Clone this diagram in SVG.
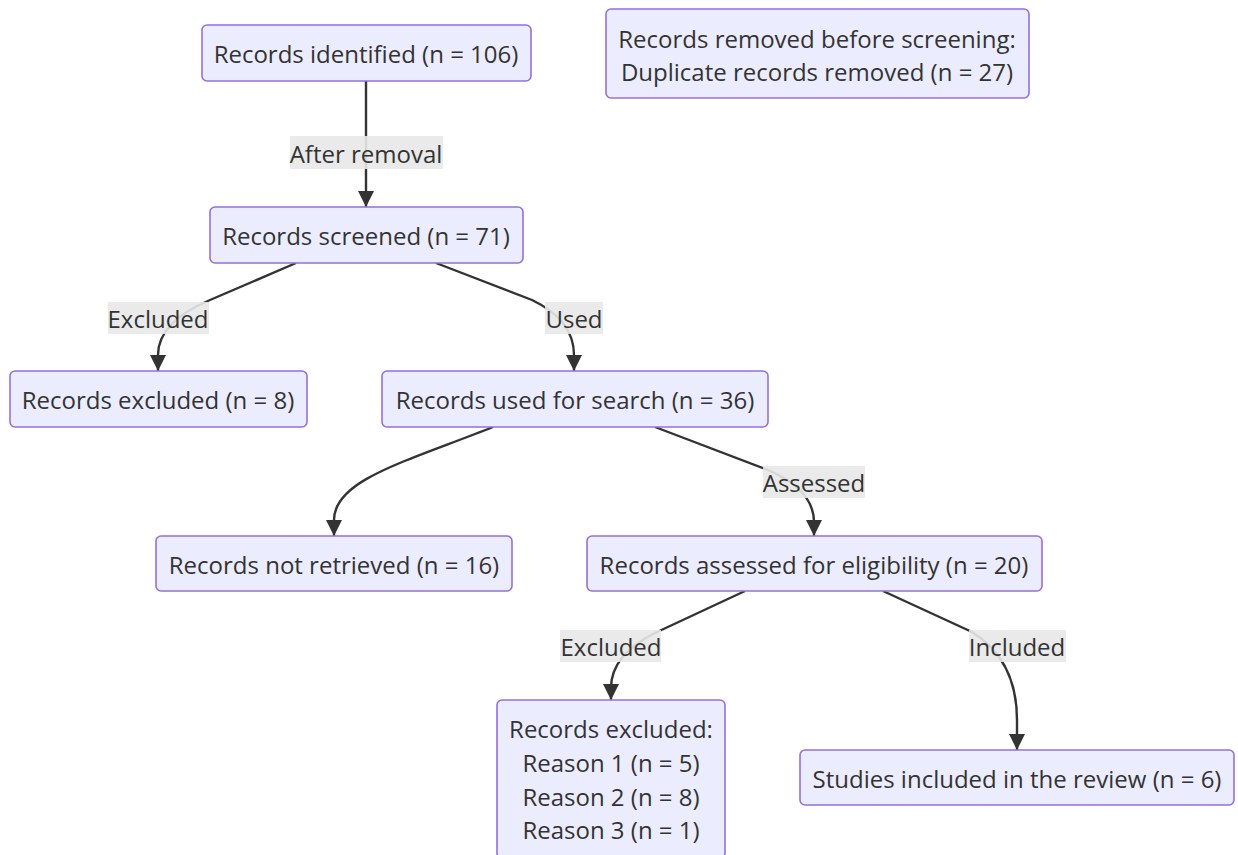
<svg xmlns="http://www.w3.org/2000/svg" width="1238" height="855" viewBox="0 0 1238 855">
<defs>
<style>
.node rect{fill:#ECECFF;stroke:#9370DB;stroke-width:1.6}
text{font-family:"Open Sans","Liberation Sans",sans-serif;font-size:24px;fill:#333333;text-anchor:middle;dominant-baseline:central}
.edge{fill:none;stroke:#333333;stroke-width:2.4}
.lbl rect{fill:#E8E8E8;fill-opacity:0.9}
</style>
<marker id="arr" viewBox="0 0 16 16" refX="16" refY="8" markerWidth="16" markerHeight="16" markerUnits="userSpaceOnUse" orient="auto">
<path d="M0,0 L16,8 L0,16 z" fill="#333333"/>
</marker>
</defs>
<rect width="1238" height="855" fill="#ffffff"/>
<g id="connectors">
<path class="edge" d="M366,81 L366,207" marker-end="url(#arr)"/>
<path class="edge" d="M296,263 L210,300 Q158,322 158,355 L158,371" marker-end="url(#arr)"/>
<path class="edge" d="M436,263 L532,300 Q574,320 574,355 L574,371" marker-end="url(#arr)"/>
<path class="edge" d="M493,427 C405,462 334,480 334,520 L334,536" marker-end="url(#arr)"/>
<path class="edge" d="M655,427 L768,470 Q814,490 814,522 L814,536" marker-end="url(#arr)"/>
<path class="edge" d="M745,591 L655,633 Q611,655 611,688 L611,700" marker-end="url(#arr)"/>
<path class="edge" d="M883,591 L972,632 Q1017,660 1017,720 L1017,750" marker-end="url(#arr)"/>
<g class="lbl"><rect x="290" y="136" width="153" height="33"/><text x="366" y="153">After removal</text></g>
<g class="lbl"><rect x="108" y="302" width="101" height="32"/><text x="158" y="318">Excluded</text></g>
<g class="lbl"><rect x="545" y="302" width="58" height="32"/><text x="574" y="318">Used</text></g>
<g class="lbl"><rect x="763" y="466" width="102" height="32"/><text x="814" y="482">Assessed</text></g>
<g class="lbl"><rect x="560" y="630" width="101" height="32"/><text x="611" y="646">Excluded</text></g>
<g class="lbl"><rect x="969" y="630" width="97" height="32"/><text x="1017" y="646">Included</text></g>
</g>
<g id="n1" class="node"><rect x="202" y="25" width="329" height="56" rx="5"/><text x="366" y="53">Records identified (n = 106)</text></g>
<g id="n2" class="node"><rect x="606" y="9" width="423" height="89" rx="5"/><text x="817" y="38">Records removed before screening:</text><text x="817" y="71">Duplicate records removed (n = 27)</text></g>
<g id="n3" class="node"><rect x="210" y="207" width="313" height="56" rx="5"/><text x="366" y="235">Records screened (n = 71)</text></g>
<g id="n4" class="node"><rect x="10" y="371" width="297" height="56" rx="5"/><text x="158" y="399">Records excluded (n = 8)</text></g>
<g id="n5" class="node"><rect x="382" y="371" width="386" height="56" rx="5"/><text x="575" y="399">Records used for search (n = 36)</text></g>
<g id="n6" class="node"><rect x="156" y="536" width="356" height="55" rx="5"/><text x="334" y="564">Records not retrieved (n = 16)</text></g>
<g id="n7" class="node"><rect x="587" y="536" width="455" height="55" rx="5"/><text x="814" y="564">Records assessed for eligibility (n = 20)</text></g>
<g id="n8" class="node"><rect x="497" y="700" width="228" height="158" rx="5"/><text x="611" y="728">Records excluded:</text><text x="611" y="762">Reason 1 (n = 5)</text><text x="611" y="796">Reason 2 (n = 8)</text><text x="611" y="829">Reason 3 (n = 1)</text></g>
<g id="n9" class="node"><rect x="800" y="750" width="434" height="55" rx="5"/><text x="1017" y="778">Studies included in the review (n = 6)</text></g>
</svg>
